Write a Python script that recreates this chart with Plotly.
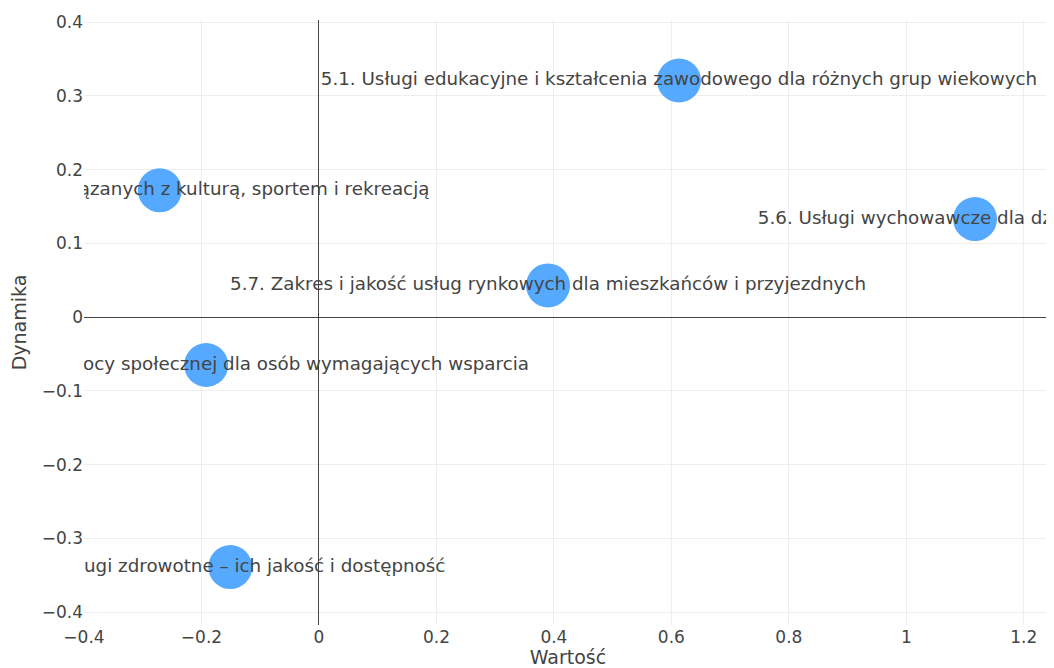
import plotly.graph_objects as go

labels = [
    "5.1. Usługi edukacyjne i kształcenia zawodowego dla różnych grup wiekowych",
    "5.4. Jakość usług związanych z kulturą, sportem i rekreacją",
    "5.6. Usługi wychowawcze dla dzieci i młodzieży",
    "5.7. Zakres i jakość usług rynkowych dla mieszkańców i przyjezdnych",
    "5.3. Jakość usług pomocy społecznej dla osób wymagających wsparcia",
    "5.2. Usługi zdrowotne – ich jakość i dostępność",
]
wartosc = [0.613, -0.271, 1.117, 0.390, -0.192, -0.151]
dynamika = [0.321, 0.172, 0.133, 0.043, -0.065, -0.339]

fig = go.Figure(
    go.Scatter(
        x=wartosc,
        y=dynamika,
        mode="markers+text",
        text=labels,
        textposition="middle center",
        marker=dict(size=44, color="#55aaff"),
        textfont=dict(family="DejaVu Sans, Verdana, sans-serif", size=18.3, color="#444"),
        cliponaxis=True,
    )
)

fig.update_layout(
    width=1046,
    height=660,
    margin=dict(l=76, r=2, t=12, b=43),
    paper_bgcolor="white",
    plot_bgcolor="white",
    showlegend=False,
    font=dict(family="DejaVu Sans, Verdana, sans-serif", size=17, color="#444"),
)
fig.update_xaxes(
    range=[-0.4, 1.248],
    dtick=0.2,
    showgrid=True,
    gridcolor="#eee",
    zeroline=True,
    zerolinecolor="#444",
    zerolinewidth=1,
    showline=False,
    automargin=False,
    tickfont=dict(size=17),
    title=dict(text="Wartość", font=dict(size=19)),
)
fig.update_yaxes(
    range=[-0.4176, 0.403],
    dtick=0.1,
    showgrid=True,
    gridcolor="#eee",
    zeroline=True,
    zerolinecolor="#444",
    zerolinewidth=1,
    showline=False,
    automargin=False,
    tickfont=dict(size=17),
    title=dict(text="Dynamika", font=dict(size=19)),
)

fig.write_html("out.html")
